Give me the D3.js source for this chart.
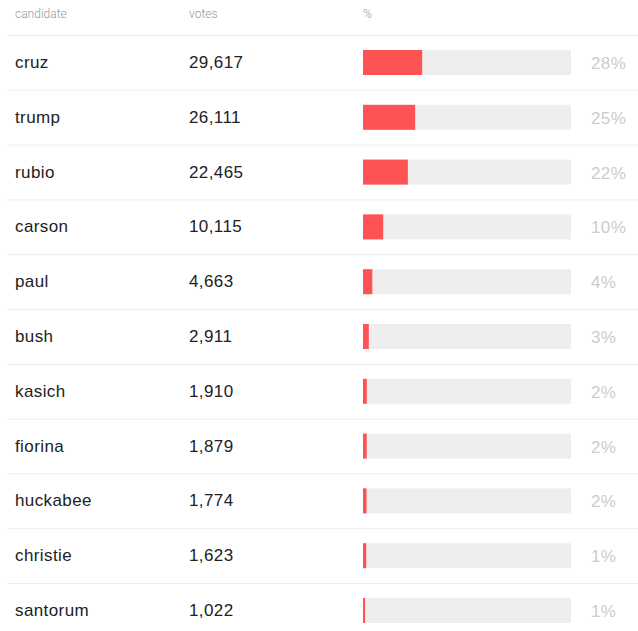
<html>
<head>
    <style>
        body { margin: 0; background: white; }
        text { font-family: "Liberation Sans", Arial, sans-serif; }
        .head { font-family: Roboto, sans-serif; font-weight: 300; font-size: 12px; fill: #999; }
        .cell { font-size: 17px; fill: #222; letter-spacing: 0.4px; }
        .pct { font-size: 17px; fill: #ccc; letter-spacing: 0.4px; }
    </style>
    <script src="https://cdn.jsdelivr.net/npm/d3@7"></script>
</head>
<body>
<div id="chart"></div>
<script>
    var candidates = ['cruz', 'trump', 'rubio', 'carson', 'paul', 'bush', 'kasich', 'fiorina', 'huckabee', 'christie', 'santorum'];
    var votes = [29617, 26111, 22465, 10115, 4663, 2911, 1910, 1879, 1774, 1623, 1022];
    var pctLabels = ['28%', '25%', '22%', '10%', '4%', '3%', '2%', '2%', '2%', '1%', '1%'];
    var headers = ['candidate', 'votes', '%'];

    var width = 638, height = 631;
    var headH = 35, rowH = 54.8;
    var colX = [15, 189, 363];

    var svg = d3.select('#chart')
            .append('svg')
            .attr('width', width)
            .attr('height', height);

    svg.selectAll('.head')
            .data(headers)
            .enter().append('text')
            .attr('class', 'head')
            .attr('x', function(d, i) { return colX[i]; })
            .attr('y', 18)
            .text(function(d) { return d; });

    var y = d3.scaleBand()
            .domain(candidates)
            .range([headH, headH + rowH * candidates.length]);

    var total = d3.sum(votes);
    var x = d3.scaleLinear()
            .domain([0, total])
            .range([0, 208]);

    var rows = svg.selectAll('.row')
            .data(candidates)
            .enter().append('g')
            .attr('class', 'row')
            .attr('transform', function(d) { return 'translate(0,' + y(d) + ')'; });

    rows.append('line')
            .attr('x1', 7)
            .attr('x2', width)
            .attr('y1', 0.5)
            .attr('y2', 0.5)
            .style('stroke', '#eee')
            .style('stroke-width', 1);

    rows.append('text')
            .attr('class', 'cell')
            .attr('x', colX[0])
            .attr('y', 33)
            .text(function(d) { return d; });

    rows.append('text')
            .attr('class', 'cell')
            .attr('x', colX[1])
            .attr('y', 33)
            .text(function(d, i) { return d3.format(',')(votes[i]); });

    rows.append('rect')                 // background track
            .attr('x', colX[2])
            .attr('y', 15)
            .attr('width', x(total))
            .attr('height', 25)
            .style('fill', '#eee');

    rows.append('rect')                 // share bar
            .attr('x', colX[2])
            .attr('y', 15)
            .attr('width', function(d, i) { return x(votes[i]); })
            .attr('height', 25)
            .style('fill', '#ff5254');

    rows.append('text')
            .attr('class', 'pct')
            .attr('x', 591)
            .attr('y', 34)
            .text(function(d, i) { return pctLabels[i]; });
</script>
</body>
</html>
